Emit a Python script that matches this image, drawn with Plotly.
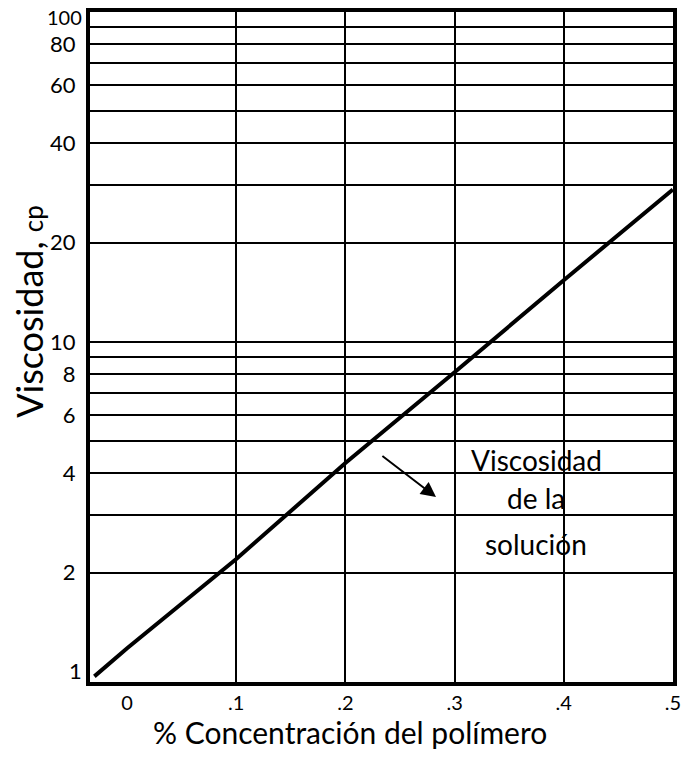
import math
import plotly.graph_objects as go

# Data
concentracion = [-0.03, 0.0, 0.1, 0.2, 0.3, 0.4, 0.5]
viscosidad = [0.97, 1.18, 2.2, 4.3, 8.1, 15.4, 29.0]

x_tick_vals = [0.0, 0.1, 0.2, 0.3, 0.4, 0.5]
x_tick_text = ["0", ".1", ".2", ".3", ".4", ".5"]
x_grid_vals = [0.1, 0.2, 0.3, 0.4]

y_tick_vals = [2, 4, 6, 8, 10, 20, 40, 60, 80]
y_tick_text = ["2", "4", "6", "8", "10", "20", "40", "60", "80"]
y_edge_labels = [(1, "1", 2, 22), (100, "100", -5, 20)]   # value, text, vertical nudge, size
y_grid_vals = [2, 3, 4, 5, 6, 7, 8, 9, 10, 20, 30, 40, 50, 60, 70, 80, 90, 100]

label_lines = ["Viscosidad", "de la", "solución"]
label_x = 0.375
label_y = [4.4, 3.38, 2.45]
arrow_tail = (0.2325, 4.55)
arrow_head = (0.283, 3.39)

FONT = "Lato, 'Open Sans', sans-serif"

fig = go.Figure()
fig.add_trace(go.Scatter(
    x=concentracion, y=viscosidad, mode="lines",
    line=dict(color="black", width=4), showlegend=False, hoverinfo="skip",
))

fig.update_layout(
    width=688, height=763,
    margin=dict(l=90, r=15, t=12, b=81),
    paper_bgcolor="white", plot_bgcolor="white",
    font=dict(family=FONT, color="black"),
    showlegend=False,
)

fig.update_xaxes(
    range=[-0.034, 0.5001], automargin=False,
    tickmode="array", tickvals=x_tick_vals, ticktext=x_tick_text,
    tickfont=dict(size=20, family=FONT),
    showgrid=False, zeroline=False,
    showline=True, linecolor="black", linewidth=4, mirror=True,
    ticks="", ticklabelstandoff=0, ticklabeloverflow="allow",
    minor=dict(tickmode="array", tickvals=x_grid_vals, showgrid=True,
               gridcolor="black", gridwidth=2, ticks=""),
)

fig.update_yaxes(
    type="log", range=[-0.0303, 2.0005], automargin=False,
    tickmode="array", tickvals=y_tick_vals, ticktext=y_tick_text,
    tickfont=dict(size=22, family=FONT),
    showgrid=False, zeroline=False,
    showline=True, linecolor="black", linewidth=4, mirror=True,
    ticks="", ticklabelstandoff=6,
    minor=dict(tickmode="array", tickvals=y_grid_vals, showgrid=True,
               gridcolor="black", gridwidth=2, ticks=""),
)

# Edge labels on y axis ("1" has no grid line, "100" sits on the top border)
for val, txt, nudge, size in y_edge_labels:
    fig.add_annotation(x=0, xref="paper", y=math.log10(val), yref="y", text=txt,
                       showarrow=False, xanchor="right", xshift=-6, yshift=nudge,
                       font=dict(size=size, family=FONT))

# X axis title
fig.add_annotation(
    x=0.446, xref="paper", y=-0.075, yref="paper",
    text="% Concentración del polímero", showarrow=False,
    xanchor="center", yanchor="middle",
    font=dict(size=30, family=FONT),
)

# Y axis title
fig.add_annotation(
    x=-0.104, xref="paper", y=0.553, yref="paper",
    text="Viscosidad, <span style='font-size:26px'>cp</span>",
    textangle=-90, showarrow=False, xanchor="center", yanchor="middle",
    font=dict(size=36, family=FONT),
)

# Annotation text, one line per row
for line, ly in zip(label_lines, label_y):
    fig.add_annotation(
        x=label_x, y=math.log10(ly), xref="x", yref="y",
        text=line, showarrow=False, xanchor="center", yanchor="middle",
        font=dict(size=28, family=FONT),
    )

# Arrow
fig.add_annotation(
    x=arrow_head[0], y=math.log10(arrow_head[1]), xref="x", yref="y",
    ax=arrow_tail[0], ay=math.log10(arrow_tail[1]), axref="x", ayref="y",
    text="", showarrow=True, arrowhead=2, arrowsize=1.5, arrowwidth=2,
    arrowcolor="black",
)

fig.write_html("out.html")
